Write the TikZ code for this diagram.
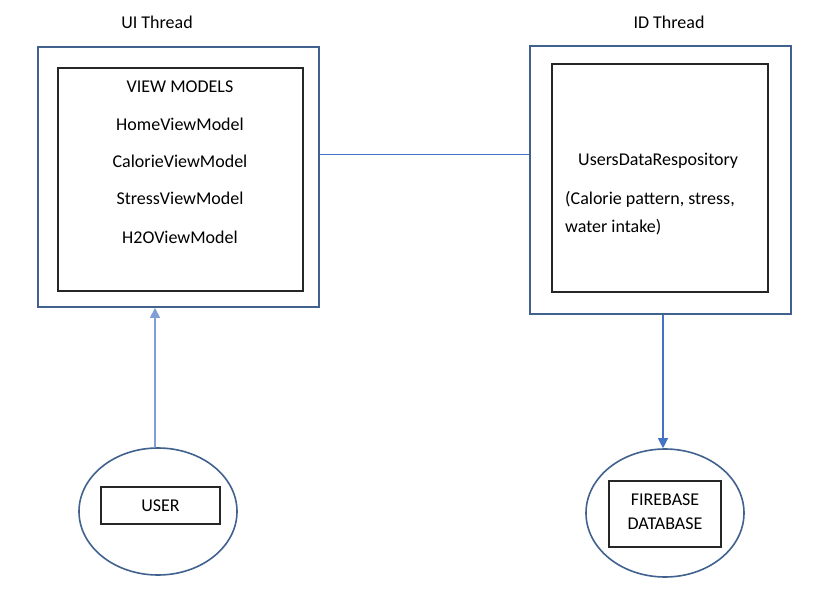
\documentclass[tikz,border=0pt]{standalone}
\usepackage{fontspec}
\setmainfont{Carlito}
\usetikzlibrary{shapes.geometric,arrows.meta}
\definecolor{outerblue}{HTML}{41628F}
\definecolor{arrowblue}{HTML}{4472C4}
\definecolor{lightblue}{HTML}{7F9FD6}
\begin{document}
\begin{tikzpicture}[x=1pt,y=-1pt,
  outerbox/.style={draw=outerblue,line width=1.8pt,minimum width=#1,inner sep=0pt},
  innerbox/.style={draw=black!85,line width=1.1pt,inner sep=0pt},
  ell/.style={ellipse,draw=outerblue,line width=1.6pt,inner sep=0pt},
  lbl/.style={font=\fontsize{18}{22}\selectfont,inner sep=0pt,text=black},
  conn/.style={draw=arrowblue,line width=1pt},
  arr/.style={draw=#1,line width=1.1pt,-{Triangle[length=10pt,width=10pt]}}]
\useasboundingbox (0,0) rectangle (824,593);
\fill[white] (0,0) rectangle (824,593);
% titles
\node[lbl] (uititle) at (157,22) {UI Thread};
\node[lbl] (idtitle) at (669,22) {ID Thread};
% UI thread boxes
\node[outerbox=281pt,minimum height=260pt] (uiouter) at (178.5,177) {};
\node[innerbox,minimum width=245pt,minimum height=223pt] (uiinner) at (180.5,179.5) {};
\node[lbl] (vm) at (180,87) {VIEW MODELS};
\node[lbl] (home) at (180,124) {HomeViewModel};
\node[lbl] (cal) at (180,161) {CalorieViewModel};
\node[lbl] (stress) at (180,198) {StressViewModel};
\node[lbl] (h2o) at (180,237) {H2OViewModel};
% ID thread boxes
\node[outerbox=261pt,minimum height=268pt] (idouter) at (660.5,180) {};
\node[innerbox,minimum width=216pt,minimum height=228pt] (idinner) at (660,178) {};
\node[lbl,anchor=west] (repo) at (578,161) {UsersDataRespository};
\node[lbl,anchor=west] (repo2) at (565,199) {(Calorie pattern, stress,};
\node[lbl,anchor=west] (repo3) at (565,227) {water intake)};
% ellipses
\node[ell,minimum width=158pt,minimum height=127pt] (userell) at (158,511.5) {};
\node[innerbox,minimum width=119pt,minimum height=37pt,lbl] (user) at (160.5,505.5) {USER};
\node[ell,minimum width=158pt,minimum height=128pt] (fbell) at (665,513) {};
\node[innerbox,minimum width=112pt,minimum height=66pt] (fb) at (665,514) {};
\node[lbl,align=center] (fbtext) at (665,511.5) {FIREBASE\\[2pt]DATABASE};
% connectors
\coordinate (ly) at (0,155);
\coordinate (ax) at (155,0);
\coordinate (bx) at (663,0);
\draw[conn] (uiouter.east |- ly) -- (idouter.west |- ly);
\draw[arr=lightblue] (ax |- userell.north) -- (ax |- uiouter.south);
\draw[arr=arrowblue] (bx |- idouter.south) -- (bx |- fbell.north);
\end{tikzpicture}
\end{document}
